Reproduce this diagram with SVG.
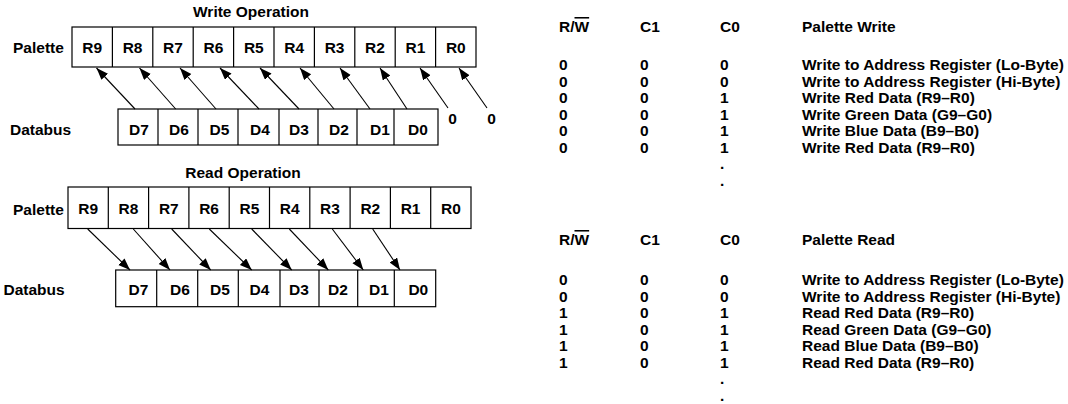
<svg xmlns="http://www.w3.org/2000/svg" width="1068" height="404" viewBox="0 0 1068 404">
<style>
text{font-family:"Liberation Sans",Arial,sans-serif;font-weight:bold;font-size:15.5px;fill:#000}
.c{text-anchor:middle}
.box{fill:#fff;stroke:#000;stroke-width:1.2}
.div{stroke:#000;stroke-width:1.2}
.arr{stroke:#000;stroke-width:1.1;fill:none;marker-end:url(#ah)}
.ol{text-decoration:overline}
</style>
<defs>
<marker id="ah" markerUnits="userSpaceOnUse" markerWidth="13" markerHeight="10" refX="12" refY="4.5" orient="auto">
<path d="M0,0 L12,4.5 L0,9 Z" fill="#000"/>
</marker>
</defs>
<rect width="1068" height="404" fill="#fff"/>

<g id="write-op">
<text class="c" x="251" y="17">Write Operation</text>
<g id="write-palette">
<text x="13" y="53">Palette</text>
<rect class="box" x="72" y="27" width="404" height="40"/>
<path class="div" d="M112.4,27V67M152.8,27V67M193.2,27V67M233.6,27V67M274,27V67M314.4,27V67M354.8,27V67M395.2,27V67M435.6,27V67"/>
<text class="c" x="92.2" y="53">R9</text>
<text class="c" x="132.6" y="53">R8</text>
<text class="c" x="173" y="53">R7</text>
<text class="c" x="213.4" y="53">R6</text>
<text class="c" x="253.8" y="53">R5</text>
<text class="c" x="294.2" y="53">R4</text>
<text class="c" x="334.6" y="53">R3</text>
<text class="c" x="375" y="53">R2</text>
<text class="c" x="415.4" y="53">R1</text>
<text class="c" x="455.8" y="53">R0</text>
</g>
<g id="write-databus">
<text x="10" y="135">Databus</text>
<rect class="box" x="118" y="109" width="320" height="36"/>
<path class="div" d="M158,109V145M198,109V145M238,109V145M279,109V145M318,109V145M357,109V145M394,109V145"/>
<text class="c" x="139" y="135">D7</text>
<text class="c" x="179" y="135">D6</text>
<text class="c" x="219.5" y="135">D5</text>
<text class="c" x="260" y="135">D4</text>
<text class="c" x="299" y="135">D3</text>
<text class="c" x="339" y="135">D2</text>
<text class="c" x="380" y="135">D1</text>
<text class="c" x="418" y="135">D0</text>
</g>
<g id="write-zeros">
<text class="c" x="452.5" y="123.5">0</text>
<text class="c" x="491.5" y="123.5">0</text>
</g>
</g>

<g id="write-connectors">
<line class="arr" x1="135" y1="109" x2="96.5" y2="68"/>
<line class="arr" x1="175.7" y1="109" x2="139.5" y2="68"/>
<line class="arr" x1="216" y1="109" x2="180" y2="68"/>
<line class="arr" x1="259" y1="109" x2="220" y2="68"/>
<line class="arr" x1="299" y1="109" x2="260" y2="68"/>
<line class="arr" x1="334" y1="109" x2="300" y2="68"/>
<line class="arr" x1="370" y1="109" x2="340" y2="68"/>
<line class="arr" x1="407" y1="109" x2="380" y2="68"/>
<line class="arr" x1="448" y1="108" x2="420" y2="68"/>
<line class="arr" x1="487" y1="108" x2="459" y2="68"/>
</g>

<g id="read-op">
<text class="c" x="243" y="178">Read Operation</text>
<g id="read-palette">
<text x="13" y="215">Palette</text>
<rect class="box" x="68" y="187" width="403" height="41.5"/>
<path class="div" d="M108.3,187V228.5M148.6,187V228.5M188.9,187V228.5M229.2,187V228.5M269.5,187V228.5M309.8,187V228.5M350.1,187V228.5M390.4,187V228.5M430.7,187V228.5"/>
<text class="c" x="88.2" y="213.5">R9</text>
<text class="c" x="128.5" y="213.5">R8</text>
<text class="c" x="168.8" y="213.5">R7</text>
<text class="c" x="209.1" y="213.5">R6</text>
<text class="c" x="249.4" y="213.5">R5</text>
<text class="c" x="289.7" y="213.5">R4</text>
<text class="c" x="330" y="213.5">R3</text>
<text class="c" x="370.3" y="213.5">R2</text>
<text class="c" x="410.6" y="213.5">R1</text>
<text class="c" x="450.9" y="213.5">R0</text>
</g>
<g id="read-databus">
<text x="3.5" y="295">Databus</text>
<rect class="box" x="115.7" y="270" width="320" height="36.7"/>
<path class="div" d="M156.7,270V306.7M197.7,270V306.7M238.3,270V306.7M280,270V306.7M319,270V306.7M357.7,270V306.7M394.3,270V306.7"/>
<text class="c" x="138.5" y="295">D7</text>
<text class="c" x="180" y="295">D6</text>
<text class="c" x="220" y="295">D5</text>
<text class="c" x="259.5" y="295">D4</text>
<text class="c" x="299" y="295">D3</text>
<text class="c" x="338" y="295">D2</text>
<text class="c" x="379" y="295">D1</text>
<text class="c" x="418.3" y="295">D0</text>
</g>
</g>

<g id="read-connectors">
<line class="arr" x1="87.7" y1="229" x2="130" y2="270"/>
<line class="arr" x1="133.3" y1="229" x2="170" y2="270"/>
<line class="arr" x1="171.7" y1="229" x2="210.7" y2="270"/>
<line class="arr" x1="209.3" y1="229" x2="251.7" y2="270"/>
<line class="arr" x1="251.7" y1="229" x2="291.7" y2="270"/>
<line class="arr" x1="289.3" y1="229" x2="328.3" y2="270"/>
<line class="arr" x1="332.3" y1="229" x2="363.3" y2="270"/>
<line class="arr" x1="372.7" y1="229" x2="400" y2="270"/>
</g>

<g id="write-table">
<text x="559" y="32">R/<tspan class="ol">W</tspan></text>
<text x="640" y="32">C1</text>
<text x="720" y="32">C0</text>
<text x="802" y="32">Palette Write</text>
<text x="559" y="70">0</text><text x="640" y="70">0</text><text x="720" y="70">0</text><text x="802" y="70">Write to Address Register (Lo-Byte)</text>
<text x="559" y="86.5">0</text><text x="640" y="86.5">0</text><text x="720" y="86.5">0</text><text x="802" y="86.5">Write to Address Register (Hi-Byte)</text>
<text x="559" y="103">0</text><text x="640" y="103">0</text><text x="720" y="103">1</text><text x="802" y="103">Write Red Data (R9–R0)</text>
<text x="559" y="119.5">0</text><text x="640" y="119.5">0</text><text x="720" y="119.5">1</text><text x="802" y="119.5">Write Green Data (G9–G0)</text>
<text x="559" y="136">0</text><text x="640" y="136">0</text><text x="720" y="136">1</text><text x="802" y="136">Write Blue Data (B9–B0)</text>
<text x="559" y="152.5">0</text><text x="640" y="152.5">0</text><text x="720" y="152.5">1</text><text x="802" y="152.5">Write Red Data (R9–R0)</text>
<text x="720" y="169">.</text>
<text x="720" y="185.5">.</text>
</g>

<g id="read-table">
<text x="559" y="245">R/<tspan class="ol">W</tspan></text>
<text x="640" y="245">C1</text>
<text x="720" y="245">C0</text>
<text x="802" y="245">Palette Read</text>
<text x="559" y="285">0</text><text x="640" y="285">0</text><text x="720" y="285">0</text><text x="802" y="285">Write to Address Register (Lo-Byte)</text>
<text x="559" y="301.5">0</text><text x="640" y="301.5">0</text><text x="720" y="301.5">0</text><text x="802" y="301.5">Write to Address Register (Hi-Byte)</text>
<text x="559" y="318">1</text><text x="640" y="318">0</text><text x="720" y="318">1</text><text x="802" y="318">Read Red Data (R9–R0)</text>
<text x="559" y="334.5">1</text><text x="640" y="334.5">0</text><text x="720" y="334.5">1</text><text x="802" y="334.5">Read Green Data (G9–G0)</text>
<text x="559" y="351">1</text><text x="640" y="351">0</text><text x="720" y="351">1</text><text x="802" y="351">Read Blue Data (B9–B0)</text>
<text x="559" y="367.5">1</text><text x="640" y="367.5">0</text><text x="720" y="367.5">1</text><text x="802" y="367.5">Read Red Data (R9–R0)</text>
<text x="720" y="384">.</text>
<text x="720" y="400.5">.</text>
</g>
</svg>
